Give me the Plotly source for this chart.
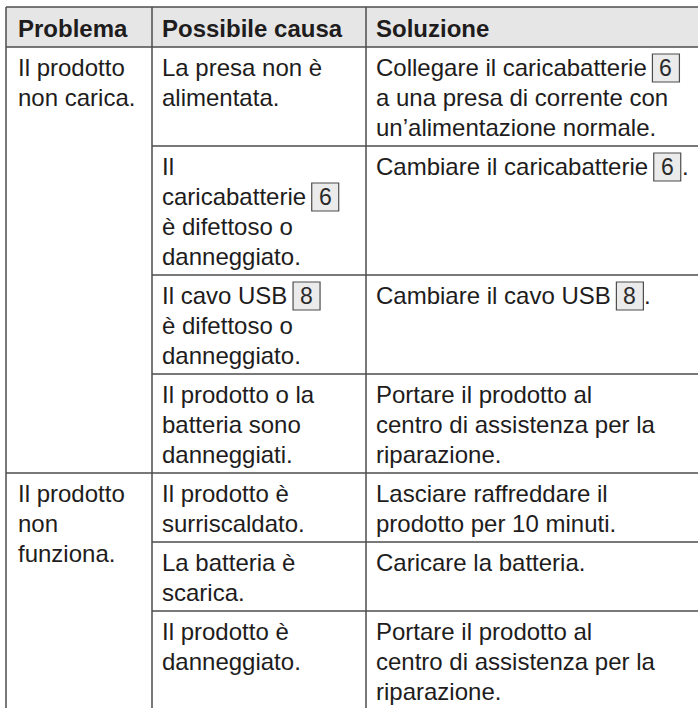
import re
import plotly.graph_objects as go

# ---------------- data ----------------
headers = ["Problema", "Possibile causa", "Soluzione"]
problems = ["Il prodotto\nnon carica.", "Il prodotto\nnon\nfunziona."]
problem_rows = [4, 3]
causes = [
    "La presa non è\nalimentata.",
    "Il\ncaricabatterie [6]\nè difettoso o\ndanneggiato.",
    "Il cavo USB [8]\nè difettoso o\ndanneggiato.",
    "Il prodotto o la\nbatteria sono\ndanneggiati.",
    "Il prodotto è\nsurriscaldato.",
    "La batteria è\nscarica.",
    "Il prodotto è\ndanneggiato.",
]
solutions = [
    "Collegare il caricabatterie [6]\na una presa di corrente con\nun’alimentazione normale.",
    "Cambiare il caricabatterie [6].",
    "Cambiare il cavo USB [8].",
    "Portare il prodotto al\ncentro di assistenza per la\nriparazione.",
    "Lasciare raffreddare il\nprodotto per 10 minuti.",
    "Caricare la batteria.",
    "Portare il prodotto al\ncentro di assistenza per la\nriparazione.",
]

# ---------------- layout constants ----------------
W, H = 698, 708
FONT = "Liberation Sans, Arial, sans-serif"
FS = 24
LINE_C = "#4d4d4d"
TEXT_C = "#1e1c1c"
HEAD_BG = "#e6e6e6"
BOX_BG = "#ebebeb"
col_x = [6, 152, 366, W]
col_pad = [10, 8, 8]
top_y, head_y = 7, 47
LH, PAD, TOP = 30, 9, 5
BOX_W, BOX_H = 27, 28

# Arial / Liberation Sans advance widths (per 1000 em)
AW = {' ': 278, '.': 278, "’": 222, "'": 191, 'è': 556}
AW.update({c: 556 for c in "0123456789"})
AW.update(dict(zip("ABCDEFGHIJKLMNOPQRSTUVWXYZ",
                   [667, 667, 722, 722, 667, 611, 778, 722, 278, 500, 667, 556, 833,
                    722, 778, 667, 778, 722, 667, 611, 722, 667, 944, 667, 667, 611])))
AW.update(dict(zip("abcdefghijklmnopqrstuvwxyz",
                   [556, 556, 500, 556, 556, 278, 556, 556, 222, 222, 500, 222, 833,
                    556, 556, 556, 556, 333, 500, 278, 556, 500, 722, 500, 500, 500])))


def tw(s, size=FS):
    return sum(AW.get(c, 556) for c in s) / 1000 * size


fig = go.Figure()
shapes, annos = [], []


def hline(x0, x1, y):
    shapes.append(dict(type="line", x0=x0, x1=x1, y0=y, y1=y, xref="x", yref="y",
                       line=dict(color=LINE_C, width=1.5)))


def vline(x, y0, y1):
    shapes.append(dict(type="line", x0=x, x1=x, y0=y0, y1=y1, xref="x", yref="y",
                       line=dict(color=LINE_C, width=1.5)))


def text(x, y, s, bold=False, size=FS, anchor="left", color=TEXT_C):
    annos.append(dict(x=x, y=y, xref="x", yref="y", text=f"<b>{s}</b>" if bold else s,
                      showarrow=False, xanchor=anchor, yanchor="middle",
                      font=dict(family=FONT, size=size, color=color)))


def cell_text(x, y_top, s):
    for k, line in enumerate(s.split("\n")):
        yc = y_top + TOP + k * LH + LH / 2
        cx = x
        for part in re.split(r"(\[\d+\])", line):
            if not part:
                continue
            m = re.fullmatch(r"\[(\d+)\]", part)
            if m:
                cx += 1
                shapes.append(dict(type="rect", x0=cx, x1=cx + BOX_W,
                                   y0=yc - BOX_H / 2 + 1, y1=yc + BOX_H / 2 + 1,
                                   xref="x", yref="y", fillcolor=BOX_BG,
                                   line=dict(color=LINE_C, width=1.2)))
                text(cx + BOX_W / 2, yc + 1, m.group(1), size=FS - 1, anchor="center",
                     color="#2a2a2a")
                cx += BOX_W - 1
            else:
                text(cx, yc, part)
                cx += tw(part)


# header
shapes.append(dict(type="rect", x0=col_x[0], x1=W, y0=top_y, y1=head_y, xref="x", yref="y",
                   fillcolor=HEAD_BG, line=dict(width=0), layer="below"))
hline(col_x[0], W, top_y)
hline(col_x[0], W, head_y)
for i, hd in enumerate(headers):
    text(col_x[i] + col_pad[i], (top_y + head_y) / 2 + 1, hd, bold=True)

# body
row_tops = []
y = head_y
for c, s in zip(causes, solutions):
    n = max(len(c.split("\n")), len(s.split("\n")))
    row_tops.append(y)
    cell_text(col_x[1] + col_pad[1], y, c)
    cell_text(col_x[2] + col_pad[2], y, s)
    y += n * LH + PAD
    hline(col_x[1], W, y)
row_tops.append(y)

r = 0
for p, span in zip(problems, problem_rows):
    cell_text(col_x[0] + col_pad[0], row_tops[r], p)
    r += span
    hline(col_x[0], col_x[1], row_tops[r])

for x in col_x[:3]:
    vline(x, top_y, H + 5)

fig.update_layout(
    width=W, height=H, margin=dict(l=0, r=0, t=0, b=0),
    paper_bgcolor="white", plot_bgcolor="white", showlegend=False,
    xaxis=dict(range=[0, W], visible=False, fixedrange=True),
    yaxis=dict(range=[H, 0], visible=False, fixedrange=True),
    shapes=shapes, annotations=annos,
)
fig.write_html("out.html", config={"displayModeBar": False},
               post_script="document.body.style.margin='0px';document.body.style.overflow='hidden';")
